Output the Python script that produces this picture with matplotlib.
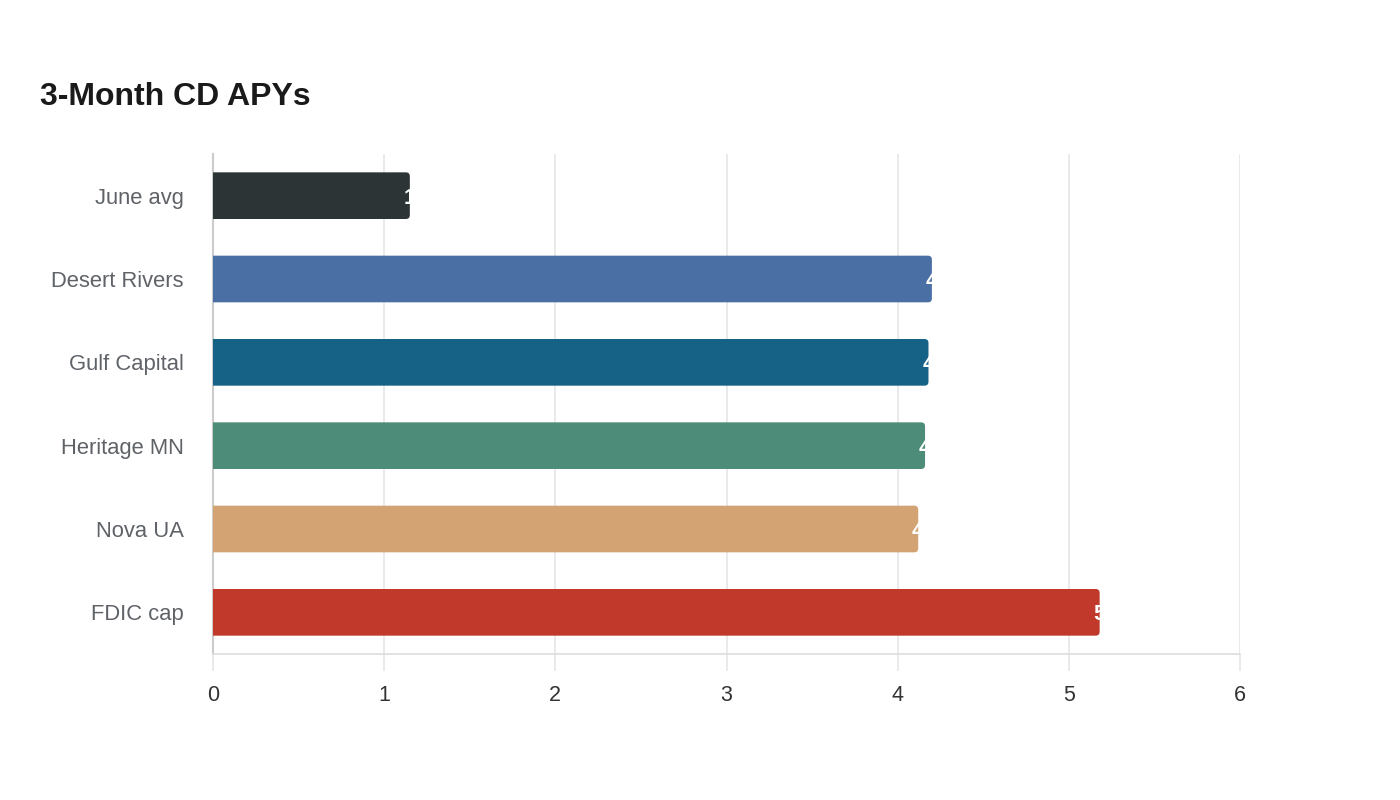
import matplotlib
matplotlib.use("Agg")
import matplotlib.pyplot as plt
from matplotlib.patches import FancyBboxPatch

plt.rcParams['font.family'] = ['Liberation Sans', 'DejaVu Sans']

categories = ["June avg", "Desert Rivers", "Gulf Capital", "Heritage MN", "Nova UA", "FDIC cap"]
values = [1.15, 4.20, 4.18, 4.16, 4.12, 5.18]
labels = ["1.15", "4.20", "4.18", "4.16", "4.12", "5.18"]
colors = ["#2d3436", "#4a6fa5", "#166186", "#4e8c7a", "#d4a373", "#c0392b"]
xticks = [0, 1, 2, 3, 4, 5, 6]

fig = plt.figure(figsize=(14, 8), dpi=100)
ax = fig.add_axes([213/1400, 1-654/800, (1240-213)/1400, 500/800])
ax.set_xlim(0, 6)
ax.set_ylim(len(categories)-0.5, -0.5)

bar_h = 0.56
px_x = 6/1027
px_y = 6/500
for i, (v, c, lab) in enumerate(zip(values, colors, labels)):
    start = -0.05
    p = FancyBboxPatch((start, i - bar_h/2), v - start, bar_h,
                       boxstyle="round,pad=0,rounding_size=%f" % (4*px_x),
                       mutation_aspect=px_y/px_x,
                       fc=c, ec="none", zorder=3, clip_on=True)
    ax.add_patch(p)
    ax.annotate(lab, xy=(v, i), xytext=(-4.5, 0), textcoords="offset points",
                ha="left", va="center_baseline", color="white", fontsize=15.5,
                fontweight="bold", zorder=4)

ax.set_yticks(range(len(categories)))
ax.set_yticklabels(categories, fontsize=15.8, color="#5f6368")
ax.set_xticks(xticks)
ax.set_xticklabels([str(t) for t in xticks], fontsize=15.5, color="#333333")
ax.tick_params(axis="y", length=0, pad=21)
ax.tick_params(axis="x", length=12, color="#e6e6e6", width=1.2, pad=10)
ax.grid(axis="x", color="#e6e6e6", linewidth=1.2, zorder=0)
ax.set_axisbelow(True)
for s in ["top", "right"]:
    ax.spines[s].set_visible(False)
ax.spines["left"].set_color("#cccccc")
ax.spines["left"].set_linewidth(1.5)
ax.spines["bottom"].set_color("#dddddd")
ax.spines["bottom"].set_linewidth(1.2)

fig.text(40/1400, 1-97/800, "3-Month CD APYs", fontsize=23, fontweight="bold",
         color="#1a1a1a", ha="left", va="center")

fig.savefig("out.png", dpi=100, facecolor="white")
